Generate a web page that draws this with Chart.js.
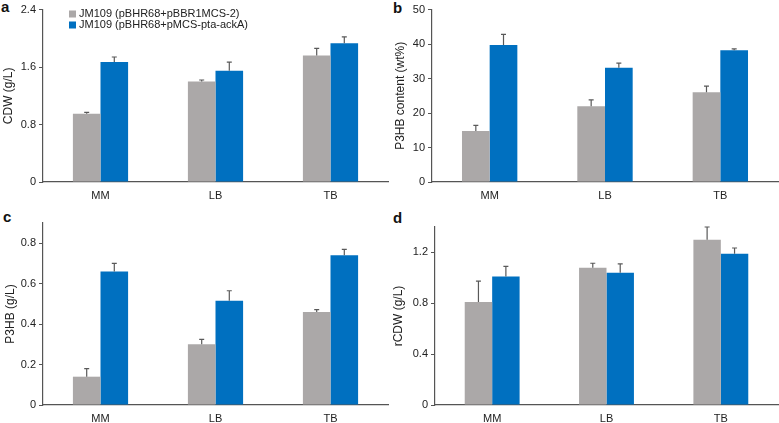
<!DOCTYPE html>
<html>
<head>
<meta charset="utf-8">
<script src="https://cdn.jsdelivr.net/npm/chart.js@4.4.1/dist/chart.umd.min.js"></script>
<style>
body { margin: 0; background: #fff; width: 779px; height: 423px; overflow: hidden; position: relative; font-family: "Liberation Sans", Arial, sans-serif; }
canvas { position: absolute; }
.tag { position: absolute; font-weight: bold; font-size: 15px; line-height: 15px; color: #111; }
</style>
</head>
<body>
<div class="tag" style="left:1px;top:-1px">a</div>
<div class="tag" style="left:393px;top:0px">b</div>
<div class="tag" style="left:3px;top:209px">c</div>
<div class="tag" style="left:393px;top:210px">d</div>
<canvas id="chartA" width="390" height="200" style="left:0;top:0"></canvas>
<canvas id="chartB" width="389" height="200" style="left:390px;top:0"></canvas>
<canvas id="chartC" width="390" height="213" style="left:0;top:210px"></canvas>
<canvas id="chartD" width="389" height="213" style="left:390px;top:210px"></canvas>
<script>
'use strict';

const categories = ['MM', 'LB', 'TB'];
const seriesNames = ['JM109 (pBHR68+pBBR1MCS-2)', 'JM109 (pBHR68+pMCS-pta-ackA)'];

// a - CDW (g/L)
const cdwCtrl = [0.95, 1.40, 1.76];
const cdwCtrlErr = [0.02, 0.02, 0.10];
const cdwPta = [1.67, 1.55, 1.93];
const cdwPtaErr = [0.07, 0.12, 0.09];
const cdwTicks = [0, 0.8, 1.6, 2.4];

// b - P3HB content (wt%)
const contentCtrl = [14.8, 22.0, 26.0];
const contentCtrlErr = [1.6, 1.8, 1.8];
const contentPta = [39.7, 33.1, 38.2];
const contentPtaErr = [3.1, 1.4, 0.4];
const contentTicks = [0, 10, 20, 30, 40, 50];

// c - P3HB (g/L)
const p3hbCtrl = [0.14, 0.30, 0.46];
const p3hbCtrlErr = [0.04, 0.025, 0.012];
const p3hbPta = [0.66, 0.515, 0.74];
const p3hbPtaErr = [0.04, 0.05, 0.03];
const p3hbTicks = [0, 0.2, 0.4, 0.6, 0.8];

// d - rCDW (g/L)
const rcdwCtrl = [0.81, 1.08, 1.30];
const rcdwCtrlErr = [0.165, 0.035, 0.10];
const rcdwPta = [1.01, 1.04, 1.19];
const rcdwPtaErr = [0.08, 0.07, 0.045];
const rcdwTicks = [0, 0.4, 0.8, 1.2];

const gray = '#aba8a8';
const blue = '#0070c0';
const axisColor = '#555';
const textColor = '#222';

Chart.defaults.font.family = '"Liberation Sans", Arial, sans-serif';

// plus-only error bars
const errorBars = {
    id: 'errorBars',
    afterDatasetsDraw(chart) {
        const ctx = chart.ctx;
        const yScale = chart.scales.y;
        ctx.save();
        ctx.strokeStyle = '#595959';
        ctx.lineWidth = 1.2;
        chart.data.datasets.forEach(function(ds, i) {
            chart.getDatasetMeta(i).data.forEach(function(bar, j) {
                const top = yScale.getPixelForValue(ds.data[j] + ds.errors[j]);
                ctx.beginPath();
                ctx.moveTo(bar.x, bar.y);
                ctx.lineTo(bar.x, top);
                ctx.moveTo(bar.x - 2.5, top);
                ctx.lineTo(bar.x + 2.5, top);
                ctx.stroke();
            });
        });
        ctx.restore();
    }
};

// legend sitting inside the plot of panel a
const innerLegend = {
    id: 'innerLegend',
    afterDraw(chart) {
        const ctx = chart.ctx;
        ctx.save();
        ctx.font = '11px "Liberation Sans", Arial, sans-serif';
        ctx.textBaseline = 'middle';
        chart.data.datasets.forEach(function(ds, i) {
            const y = 14 + i * 11;
            ctx.fillStyle = ds.backgroundColor;
            ctx.fillRect(69, y - 3.5, 7, 7);
            ctx.fillStyle = textColor;
            ctx.fillText(ds.label, 79, y);
        });
        ctx.restore();
    }
};

function makePanel(id, ctrl, ctrlErr, pta, ptaErr, yMax, ticks, title, axisWidth, titlePad, padTop, padRight, withLegend) {
    const plugins = [errorBars];
    if (withLegend) plugins.push(innerLegend);
    return new Chart(document.getElementById(id), {
        type: 'bar',
        data: {
            labels: categories,
            datasets: [{
                label: seriesNames[0],
                data: ctrl,
                errors: ctrlErr,
                backgroundColor: gray,
            }, {
                label: seriesNames[1],
                data: pta,
                errors: ptaErr,
                backgroundColor: blue,
            }],
        },
        options: {
            responsive: false,
            animation: false,
            datasets: {bar: {categoryPercentage: 0.48, barPercentage: 1.0}},
            layout: {padding: {top: padTop, right: padRight, left: 0, bottom: 0}},
            plugins: {legend: {display: false}, tooltip: {enabled: false}},
            scales: {
                x: {
                    grid: {display: false, drawTicks: false},
                    border: {color: axisColor, width: 1.2},
                    ticks: {font: {size: 11}, color: textColor, padding: 7},
                    afterFit(s) { s.height = 18; },
                },
                y: {
                    min: 0,
                    max: yMax,
                    afterBuildTicks(s) { s.ticks = ticks.map(v => ({value: v})); },
                    grid: {drawOnChartArea: false, color: axisColor, tickLength: 4},
                    border: {color: axisColor, width: 1.2},
                    ticks: {font: {size: 11}, color: textColor, padding: 3},
                    title: {display: true, text: title, font: {size: 12}, color: textColor, padding: {top: titlePad, bottom: 0}},
                    afterFit(s) { s.width = axisWidth; },
                },
            },
        },
        plugins: plugins,
    });
}

makePanel('chartA', cdwCtrl, cdwCtrlErr, cdwPta, cdwPtaErr, 2.4, cdwTicks, 'CDW (g/L)', 43, 1, 8, 2, true);
makePanel('chartB', contentCtrl, contentCtrlErr, contentPta, contentPtaErr, 50, contentTicks, 'P3HB content (wt%)', 42, 3, 8, 1, false);
makePanel('chartC', p3hbCtrl, p3hbCtrlErr, p3hbPta, p3hbPtaErr, 0.9, p3hbTicks, 'P3HB (g/L)', 43, 3, 13, 2, false);
makePanel('chartD', rcdwCtrl, rcdwCtrlErr, rcdwPta, rcdwPtaErr, 1.4, rcdwTicks, 'rCDW (g/L)', 45, 1, 17, 1, false);
</script>
</body>
</html>
